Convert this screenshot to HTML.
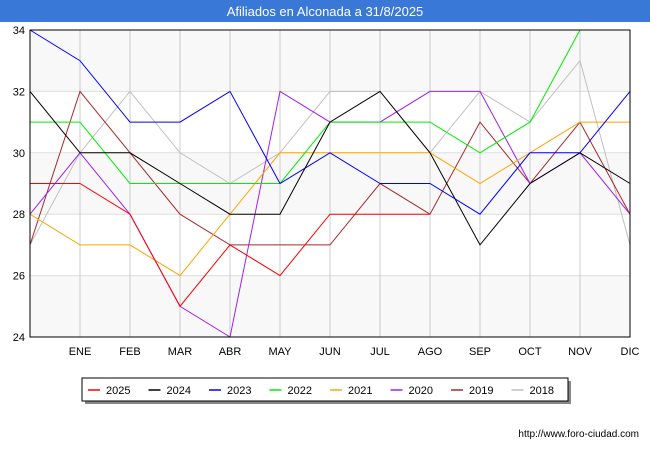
<!DOCTYPE html>
<html><head><meta charset="utf-8"><style>
body{margin:0;background:#fff;font-family:"Liberation Sans",sans-serif}
</style></head><body>
<svg width="650" height="450" xmlns="http://www.w3.org/2000/svg" font-family="Liberation Sans, sans-serif">
<rect x="0" y="0" width="650" height="22" fill="#3a78d8"/>
<text x="325" y="16" text-anchor="middle" fill="#fff" font-size="13">Afiliados en Alconada a 31/8/2025</text>
<g id="plot"></g>
<g id="legend"></g>
<text x="639" y="437" text-anchor="end" font-size="10" fill="#000">http://www.foro-ciudad.com</text>
</svg>
<script>
const months=["ENE","FEB","MAR","ABR","MAY","JUN","JUL","AGO","SEP","OCT","NOV","DIC"];
const yTicks=[24,26,28,30,32,34];
const seriesNames=["2025","2024","2023","2022","2021","2020","2019","2018"];
const colors=["#ff0000","#000000","#0000ff","#00ee00","#ffa500","#a020f0","#a52a2a","#c0c0c0"];
const s2025=[29,29,28,25,27,26,28,28,28];
const s2024=[32,30,30,29,28,28,31,32,30,27,29,30,29];
const s2023=[34,33,31,31,32,29,30,29,29,28,30,30,32];
const s2022=[31,31,29,29,29,29,31,31,31,30,31,34];
const s2021=[28,27,27,26,28,30,30,30,30,29,30,31,31];
const s2020=[28,30,28,25,24,32,31,31,32,32,29,30,28];
const s2019=[27,32,30,28,27,27,27,29,28,31,29,31,28];
const s2018=[27,30,32,30,29,30,32,32,30,32,31,33,27];
const allSeries=[s2025,s2024,s2023,s2022,s2021,s2020,s2019,s2018];
const NS="http://www.w3.org/2000/svg";
const L=30,R=630,T=30,B=337,yMin=24,yMax=34;
const xs=i=>L+(R-L)*i/12;
const ys=v=>B-(v-yMin)/(yMax-yMin)*(B-T);
const plot=document.getElementById('plot');
function mk(t,a,p){const e=document.createElementNS(NS,t);for(const k in a)e.setAttribute(k,a[k]);(p||plot).appendChild(e);return e;}
for(let i=0;i<yTicks.length-1;i++){
 if(i%2===0){const r=mk('rect',{x:L,y:ys(yTicks[i+1]),width:R-L,height:ys(yTicks[i])-ys(yTicks[i+1]),fill:'#f8f8f8'});
 
 }
}
yTicks.forEach(v=>{
 const l=mk('line',{x1:L,x2:R,y1:ys(v),y2:ys(v),stroke:'#dddddd'});
 
 
 const t=mk('text',{x:L-5,y:ys(v)+4,'text-anchor':'end','font-size':11});
 t.textContent=v;
 
 
});
months.forEach((m,i)=>{
 const x=xs(i+1);
 const l=mk('line',{x1:x,x2:x,y1:T,y2:B,stroke:'#cccccc'});
 
 
 const t=mk('text',{x:x,y:355,'text-anchor':'middle','font-size':11});
 t.textContent=m;
 
 
});
for(let k=allSeries.length-1;k>=0;k--){
 const d=allSeries[k].map((v,i)=>xs(i)+','+ys(v)).join(' ');
 const p=mk('polyline',{points:d,fill:'none',stroke:colors[k],'stroke-width':1});
 
 
}
const fr=mk('rect',{x:L,y:T,width:R-L,height:B-T,fill:'none',stroke:'#000'});


const lg=document.getElementById('legend');
const sh=mk('rect',{x:85,y:381,width:486,height:23,fill:'#888'},lg);


const lb=mk('rect',{x:82,y:378,width:486,height:23,fill:'#fff',stroke:'#000'},lg);


seriesNames.forEach((n,i)=>{
 const x0=88+i*60.5;
 const g=mk('g',{},lg);
 
 
 mk('line',{x1:x0,x2:x0+12,y1:390,y2:390,stroke:colors[i],'stroke-width':1.5},g);
 const t=mk('text',{x:x0+18,y:394,'font-size':11},g);
 t.textContent=n;
});
</script>
</body></html>
